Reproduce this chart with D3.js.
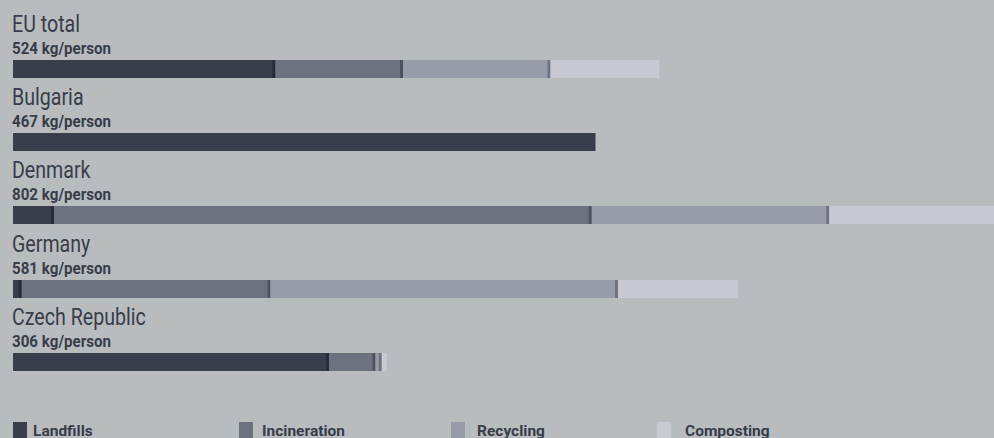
<!DOCTYPE html>
<html>
<head>
<meta charset="utf-8">
<script src="https://cdn.jsdelivr.net/npm/d3@7/dist/d3.min.js"></script>
<style>
  html, body { margin: 0; padding: 0; background: #b9bcbf; overflow: hidden; }
  svg { display: block; }
  text { font-family: Roboto, "Noto Sans", sans-serif; fill: #373d49; }
</style>
</head>
<body>
<svg id="chart" width="994" height="438"></svg>
<script>
// Municipal waste treatment per person (kg)
const countries    = ["EU total", "Bulgaria", "Denmark", "Germany", "Czech Republic"];
const totals       = [524, 467, 802, 581, 306];
const landfill     = [210, 466, 33, 7, 253];
const incineration = [102, 0, 430, 199, 37];
const recycling    = [118, 0, 190, 278, 5];
const composting   = [87, 0, 149, 96, 4];
const methods      = ["Landfills", "Incineration", "Recycling", "Composting"];

const fills   = ["#383e4a", "#6c7280", "#989ca8", "#c8c9d2"];
const seams   = ["#262b37", "#4c5261", "#6d7281", "#9a9ca8"];
const legendX     = [13, 239, 451, 657];
const legendTextX = [33, 262, 477, 685];

const rows = countries.map((c, i) => ({
  country: c,
  total: totals[i],
  values: [landfill[i], incineration[i], recycling[i], composting[i]]
}));

const svg = d3.select("#chart");

const x = d3.scaleLinear().domain([0, 800]).range([13, 1013]);
const y = d3.scaleLinear().domain([0, 4]).range([59.5, 353]);
const barH = 18;
const seamW = 3;

// stretch text horizontally to a condensed look
function condense(sel, sample, targetWidth) {
  const probe = svg.append("text").text(sample)
    .attr("font-size", sel.attr("font-size"))
    .attr("font-weight", sel.attr("font-weight"));
  const k = targetWidth / probe.node().getComputedTextLength();
  probe.remove();
  sel.each(function () {
    const w = this.getComputedTextLength();
    d3.select(this).attr("textLength", w * k).attr("lengthAdjust", "spacingAndGlyphs");
  });
}

const row = svg.selectAll("g.row").data(rows).join("g")
  .attr("class", "row")
  .attr("transform", (d, i) => `translate(0,${Math.round(y(i))})`);

const titles = row.append("text")
  .attr("x", 12)
  .attr("y", -28)
  .attr("font-size", 23)
  .attr("font-weight", 400)
  .text(d => d.country);

const subs = row.append("text")
  .attr("x", 12)
  .attr("y", -6)
  .attr("font-size", 16)
  .attr("font-weight", 700)
  .text(d => `${d.total} kg/person`);

// stacked segments, each followed by a darker seam where another segment follows
row.each(function (d) {
  const g = d3.select(this);
  let acc = 0;
  const segs = d.values.map((v, k) => {
    const s = { k, x0: acc, x1: acc + v };
    acc += v;
    return s;
  }).filter(s => s.x1 > s.x0);
  segs.forEach((s, j) => {
    g.append("rect")
      .attr("x", x(s.x0))
      .attr("y", 0)
      .attr("width", x(s.x1) - x(s.x0))
      .attr("height", barH)
      .attr("fill", fills[s.k]);
    if (j < segs.length - 1) {
      g.append("rect")
        .attr("x", x(s.x1) - seamW)
        .attr("y", 0)
        .attr("width", seamW)
        .attr("height", barH)
        .attr("fill", seams[s.k]);
    }
  });
});

// legend
const leg = svg.selectAll("g.leg").data(methods).join("g")
  .attr("class", "leg");
leg.append("rect")
  .attr("x", (d, i) => legendX[i])
  .attr("y", 422)
  .attr("width", 14)
  .attr("height", 16)
  .attr("fill", (d, i) => fills[i]);
const legText = leg.append("text")
  .attr("x", (d, i) => legendTextX[i])
  .attr("y", 436)
  .attr("font-size", 14)
  .attr("font-weight", 700)
  .text(d => d);

condense(titles, "EU total", 68);
condense(subs, "524 kg/person", 99);
condense(legText, "Incineration", 83);
</script>
</body>
</html>
